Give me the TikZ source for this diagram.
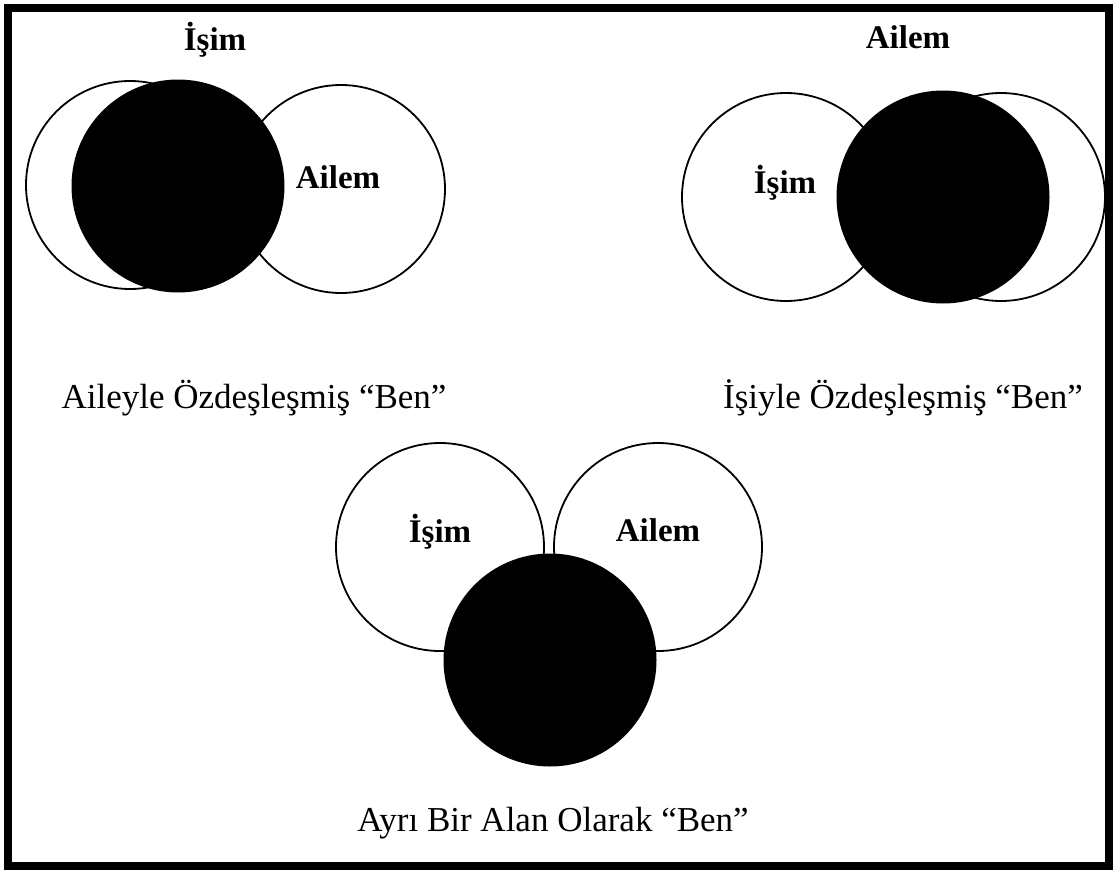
\documentclass[tikz,border=0pt]{standalone}
\usepackage{fontspec}
\setmainfont{Liberation Serif}
\usetikzlibrary{positioning}
\tikzset{
  lifecircle/.style={draw, circle, line width=1.8pt, fill=white,
    minimum size=208pt, inner sep=0pt},
  bencircle/.style={circle, fill=black, minimum size=213pt, inner sep=0pt},
  areatext/.style={font=\fontsize{33}{38}\selectfont\bfseries},
  captiontext/.style={font=\fontsize{35}{42}\selectfont},
}

\begin{document}
\begin{tikzpicture}[x=1pt, y=-1pt]
  \useasboundingbox (0,0) rectangle (1113,870);
  \draw[line width=8pt] (7.5,7.5) rectangle (1109,866);

  % Aileyle
  \node[lifecircle] (isimA) at (130,185) {};
  \node[lifecircle] (ailemA) at (341,189) {};
  \node[bencircle] (benA) at (178,186) {};
  \node[areatext] (isimAtxt) at (215,40) {İşim};
  \node[areatext] (ailemAtxt) at (338,177) {Ailem};
  \node[captiontext] (capA) at (254,398) {Aileyle Özdeşleşmiş “Ben”};

  % Isiyle
  \node[lifecircle] (isimB) at (786,197) {};
  \node[lifecircle] (ailemB) at (1001,197) {};
  \node[bencircle] (benB) at (943,197) {};
  \node[areatext] (ailemBtxt) at (908,37) {Ailem};
  \node[areatext] (isimBtxt) at (785,183) {İşim};
  \node[captiontext] (capB) at (903,398) {İşiyle Özdeşleşmiş “Ben”};

  % Ayri
  \node[lifecircle] (isimC) at (440,547) {};
  \node[lifecircle] (ailemC) at (658,547) {};
  \node[bencircle] (benC) at (550,660) {};
  \node[areatext] (isimCtxt) at (440,532) {İşim};
  \node[areatext] (ailemCtxt) at (658,530) {Ailem};
  \node[captiontext] (capC) at (553,823) {Ayrı Bir Alan Olarak “Ben”};
\end{tikzpicture}
\end{document}
